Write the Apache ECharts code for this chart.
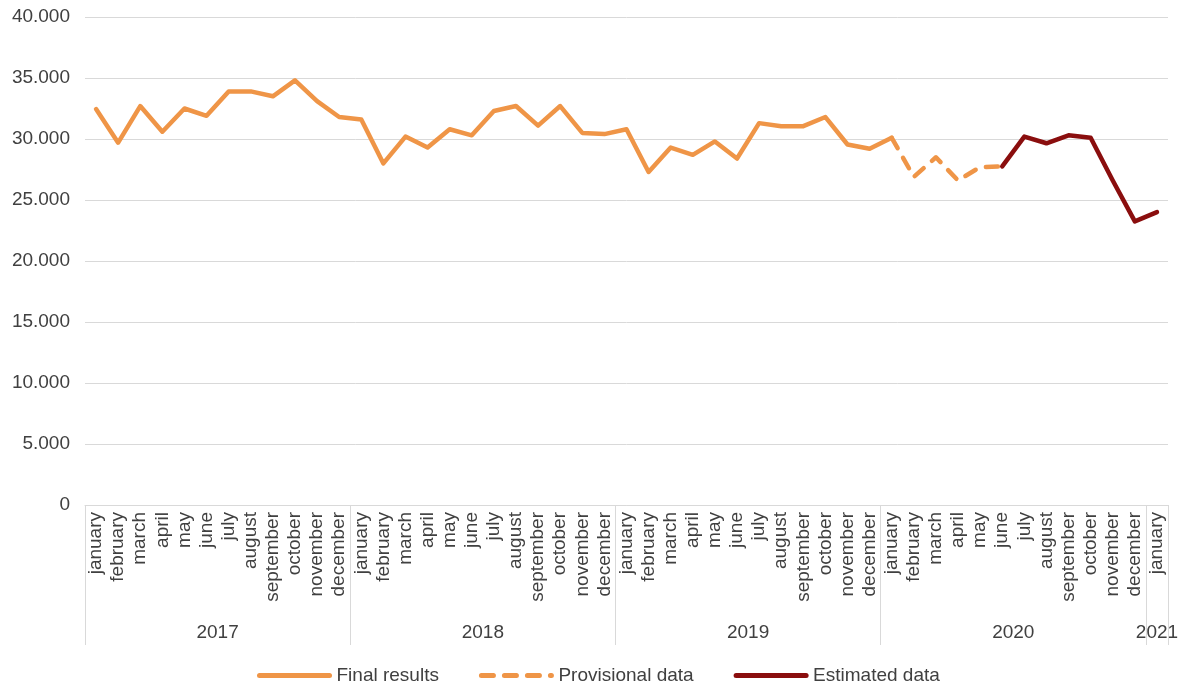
<!DOCTYPE html>
<html>
<head>
<meta charset="utf-8">
<script src="https://cdn.jsdelivr.net/npm/echarts@6/dist/echarts.min.js"></script>
<style>
  html, body { margin: 0; padding: 0; background: #fff; }
  #chart { width: 1184px; height: 690px; }
</style>
</head>
<body>
<div id="chart"></div>
<script>
// months, Jan 2017 .. Jan 2021
var monthNames = ['january','february','march','april','may','june','july','august','september','october','november','december'];
var months = [];
for (var y = 0; y < 4; y++) months = months.concat(monthNames);
months.push('january');

var years = ['2017', '2018', '2019', '2020', '2021'];
var yearCenters = [6, 18, 30, 42, 48.5];
var yearBounds = [0, 12, 24, 36, 48, 49];

// Jan 2017 .. Jan 2020
var finalResults = [
  32450, 29700, 32700, 30600, 32500, 31900, 33900, 33900, 33500, 34800, 33100, 31800,
  31600, 28000, 30200, 29300, 30800, 30300, 32300, 32700, 31100, 32700, 30500, 30400,
  30800, 27300, 29300, 28700, 29800, 28400, 31300, 31050, 31050, 31800, 29550, 29200,
  30100
];
// Jan 2020 .. Jun 2020
var provisional = [30100, 26900, 28500, 26600, 27700, 27750];
// Jun 2020 .. Jan 2021
var estimated = [27750, 30200, 29650, 30300, 30100, 26600, 23250, 24000];

function pad(values, start) {
  var out = [];
  for (var i = 0; i < months.length; i++) {
    var k = i - start;
    out.push(k >= 0 && k < values.length ? values[k] : null);
  }
  return out;
}

var orange = '#EF9547';
var darkRed = '#8A0E0E';
var textColor = '#404040';
var font = 'Liberation Sans, Arial, sans-serif';

var chart = echarts.init(document.getElementById('chart'));

var option = {
  animation: false,
  textStyle: { fontFamily: font },
  grid: { left: 85, right: 16, top: 17, bottom: 185, containLabel: false },
  legend: {
    bottom: 0,
    left: 252,
    itemWidth: 70,
    itemHeight: 14,
    itemGap: 40,
    itemStyle: { opacity: 0 },
    lineStyle: { width: 5 },
    textStyle: { color: textColor, fontSize: 19, fontFamily: font, padding: [0, 0, 0, 2] },
    data: ['Final results', 'Provisional data', 'Estimated data']
  },
  xAxis: [
    {
      type: 'category',
      data: months,
      boundaryGap: true,
      offset: 0,
      axisLine: { lineStyle: { color: '#D9D9D9', width: 1 } },
      axisTick: { show: false },
      axisLabel: {
        interval: 0,
        rotate: 90,
        margin: 7,
        color: textColor,
        fontSize: 19,
        fontFamily: font
      }
    },
    {
      type: 'value',
      min: 0,
      max: 49,
      position: 'bottom',
      offset: 0,
      axisLine: { show: false },
      splitLine: { show: false },
      axisTick: {
        show: true,
        length: 140,
        customValues: yearBounds,
        lineStyle: { color: '#D9D9D9', width: 1 }
      },
      axisLabel: {
        customValues: yearCenters,
        margin: 118,
        color: textColor,
        fontSize: 19,
        fontFamily: font,
        formatter: function (v) {
          var i = yearCenters.indexOf(v);
          return i >= 0 ? years[i] : '';
        }
      }
    }
  ],
  yAxis: {
    type: 'value',
    min: 0,
    max: 40000,
    interval: 5000,
    axisLine: { show: false },
    axisTick: { show: false },
    splitLine: { lineStyle: { color: '#D9D9D9', width: 1 } },
    axisLabel: {
      margin: 15,
      color: textColor,
      fontSize: 19,
      fontFamily: font,
      formatter: function (v) {
        return String(v).replace(/\B(?=(\d{3})+(?!\d))/g, '.');
      }
    }
  },
  series: [
    {
      name: 'Final results',
      type: 'line',
      data: pad(finalResults, 0),
      symbol: 'none',
      color: orange,
      lineStyle: { color: orange, width: 4.5, cap: 'round', join: 'round' }
    },
    {
      name: 'Provisional data',
      type: 'line',
      data: pad(provisional, 36),
      symbol: 'none',
      color: orange,
      lineStyle: { color: orange, width: 4.5, type: [12, 11], cap: 'round', join: 'round' }
    },
    {
      name: 'Estimated data',
      type: 'line',
      data: pad(estimated, 41),
      symbol: 'none',
      color: darkRed,
      lineStyle: { color: darkRed, width: 4.5, cap: 'round', join: 'round' }
    }
  ]
};

chart.setOption(option);
</script>
</body>
</html>
